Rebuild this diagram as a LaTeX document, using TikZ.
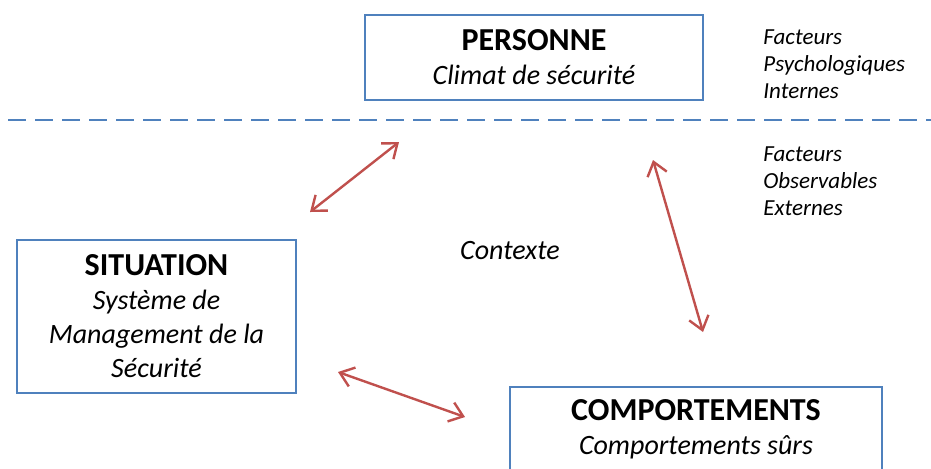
\documentclass[tikz,border=0pt]{standalone}
\usepackage{fontspec}
\setmainfont{Carlito}
\usetikzlibrary{arrows.meta}
\definecolor{boxblue}{RGB}{79,129,189}
\definecolor{arrred}{RGB}{192,80,77}
\tikzset{
  mainbox/.style={draw=boxblue, line width=1.35pt, rectangle, align=center, inner sep=0pt,
    font=\fontsize{14}{17}\selectfont},
  ttl/.style={font=\fontsize{16}{17}\selectfont\bfseries},
  note/.style={align=left, anchor=north west, inner sep=0pt, font=\fontsize{11.5}{13.5}\selectfont\itshape},
  link/.style={draw=arrred, line width=1.2pt, {Straight Barb[length=6.5pt,width=10pt]}-{Straight Barb[length=6.5pt,width=10pt]}}
}
\begin{document}
\begin{tikzpicture}[x=0.5pt,y=-0.5pt]
\clip (0,0) rectangle (931,468);
\fill[white] (0,0) rectangle (931,468);
% dashed separator
\coordinate (dl) at (8,120);
\coordinate (dr) at (931,120);
\draw[boxblue, line width=1.2pt, dash pattern=on 9pt off 4.5pt] (dl) -- (dr);
% boxes
\node[mainbox, minimum width=169pt, minimum height=42.5pt] (pers) at (534,57.5)
  {{\fontsize{16}{17}\selectfont\bfseries PERSONNE}\\\textit{Climat de sécurité}};
\node[mainbox, minimum width=139.5pt, minimum height=76.5pt] (sit) at (156.5,316.5)
  {{\fontsize{16}{17}\selectfont\bfseries SITUATION}\\\textit{Système de}\\\textit{Management de la}\\\textit{Sécurité}};
\node[mainbox, minimum width=186pt, minimum height=42.5pt] (comp) at (696,429.5)
  {{\fontsize{16}{17}\selectfont\bfseries COMPORTEMENTS}\\\textit{Comportements sûrs}};
% notes
\node[note] (fpi) at (763,29) {Facteurs\\Psychologiques\\Internes};
\node[note] (foe) at (763,146) {Facteurs\\Observables\\Externes};
\node[font=\fontsize{14}{16}\selectfont\itshape, inner sep=0pt] (ctx) at (510,251) {Contexte};
% arrows
\coordinate (a1s) at (310,212);
\coordinate (a1e) at (399,142);
\coordinate (a2s) at (653,160);
\coordinate (a2e) at (703,332);
\coordinate (a3s) at (338,372);
\coordinate (a3e) at (465,417);
\draw[link] (a1s) -- (a1e);
\draw[link] (a2s) -- (a2e);
\draw[link] (a3s) -- (a3e);
\end{tikzpicture}
\end{document}
